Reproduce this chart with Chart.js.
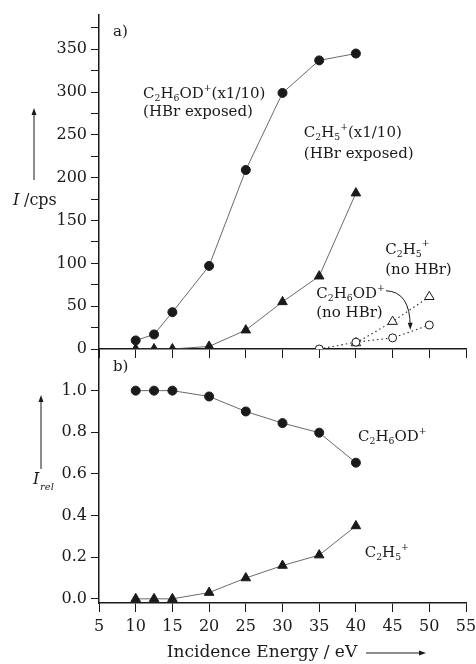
<!DOCTYPE html>
<html>
<head>
<meta charset="utf-8">
<script src="https://cdn.jsdelivr.net/npm/chart.js@4.4.0/dist/chart.umd.min.js"></script>
<style>
html, body { margin: 0; padding: 0; background: #fff; }
#wrap { position: relative; width: 476px; height: 664px; }
#wrap canvas { position: absolute; left: 0; }
</style>
</head>
<body>
<div id="wrap">
  <canvas id="topChart" width="476" height="380" style="top:0"></canvas>
  <canvas id="botChart" width="476" height="334" style="top:330px"></canvas>
</div>
<script>
// incidence energies (eV)
var energies = [10, 12.5, 15, 20, 25, 30, 35, 40];
// a) absolute intensities, cps (HBr exposed, x1/10)
var odExposed = [10, 17, 43, 97, 209, 299, 337, 345];
var ethylExposed = [0, 0, 0, 3, 22, 55, 85, 182];
// a) no HBr
var odNoHbrE = [35, 40, 45, 50];
var odNoHbr = [0, 8, 13, 28];
var ethylNoHbrE = [40, 45, 50];
var ethylNoHbr = [7, 32, 61];
// b) relative intensities
var odRel = [1.0, 1.0, 1.0, 0.972, 0.90, 0.844, 0.798, 0.654];
var ethylRel = [0, 0, 0, 0.03, 0.10, 0.16, 0.21, 0.35];
// ticks
var xTicks = [5, 10, 15, 20, 25, 30, 35, 40, 45, 50, 55];
var topYTicks = [0, 25, 50, 75, 100, 125, 150, 175, 200, 225, 250, 275, 300, 325, 350, 375];
var botYTicks = [0, 0.2, 0.4, 0.6, 0.8, 1.0];

var FONT = '"DejaVu Serif"';
var INK = '#1a1a1a';

function pts(xs, ys) {
    return xs.map(function (x, i) { return {x: x, y: ys[i]}; });
}

function richText(ctx, str, x, y, size) {
    // _c = subscript char, ^c = superscript char
    var cx = x;
    for (var i = 0; i < str.length; i++) {
        var ch = str[i], dy = 0, s = size;
        if ((ch === '_' || ch === '^') && i + 1 < str.length) {
            dy = ch === '_' ? size * 0.32 : -size * 0.38;
            s = size * 0.62;
            ch = str[++i];
        }
        ctx.font = s + 'px ' + FONT;
        ctx.fillText(ch, cx, y + dy);
        cx += ctx.measureText(ch).width;
    }
    return cx;
}

function arrowHead(ctx, x, y, ang) {
    ctx.save();
    ctx.translate(x, y);
    ctx.rotate(ang);
    ctx.beginPath();
    ctx.moveTo(0, 0);
    ctx.lineTo(-7, -2.5);
    ctx.lineTo(-7, 2.5);
    ctx.closePath();
    ctx.fill();
    ctx.restore();
}

function line(ctx, x1, y1, x2, y2) {
    ctx.beginPath();
    ctx.moveTo(x1, y1);
    ctx.lineTo(x2, y2);
    ctx.stroke();
}

function lineSet(data, style, dotted) {
    return {
        data: data,
        borderColor: dotted ? '#222' : '#444',
        borderWidth: dotted ? 1.1 : 0.8,
        borderDash: dotted ? [1.5, 3] : [],
        pointStyle: style.shape,
        pointRadius: style.r,
        pointHoverRadius: style.r,
        pointBackgroundColor: style.open ? '#fff' : INK,
        pointBorderColor: INK,
        pointBorderWidth: 1,
        tension: 0
    };
}

var dot = {shape: 'circle', r: 4.5};
var tri = {shape: 'triangle', r: 5.5};
var openDot = {shape: 'circle', r: 4, open: true};
var openTri = {shape: 'triangle', r: 5.5, open: true};

function xScale(showLabels, height) {
    return {
        type: 'linear', min: 5, max: 55,
        afterBuildTicks: function (s) { s.ticks = xTicks.map(function (v) { return {value: v}; }); },
        grid: {drawOnChartArea: false, tickLength: 9, color: INK, lineWidth: 1},
        border: {color: INK, width: 1.5},
        ticks: {display: showLabels, color: INK, font: {family: 'DejaVu Serif', size: 16}, padding: 5, maxRotation: 0},
        afterFit: function (s) { s.height = height; s.paddingLeft = 0; s.paddingRight = 0; }
    };
}

function yFit(s) { s.width = 99; s.paddingTop = 0; s.paddingBottom = 0; }

var annoTop = {
    id: 'annoTop',
    afterDraw: function (chart) {
        var ctx = chart.ctx, x = chart.scales.x, y = chart.scales.y;
        var P = function (a, b) { return [x.getPixelForValue(a), y.getPixelForValue(b)]; };
        ctx.save();
        ctx.fillStyle = INK;
        ctx.strokeStyle = INK;
        ctx.textBaseline = 'middle';
        ctx.textAlign = 'left';
        var labels = [
            ['a)', 6.9, 370],
            ['C_2H_6OD^+(x1/10)', 11.0, 298],
            ['(HBr exposed)', 11.0, 277],
            ['C_2H_5^+(x1/10)', 32.9, 252],
            ['(HBr exposed)', 32.9, 228],
            ['C_2H_5^+', 44.0, 116],
            ['(no HBr)', 44.0, 92],
            ['C_2H_6OD^+', 34.6, 64],
            ['(no HBr)', 34.6, 42]
        ];
        labels.forEach(function (l) {
            var p = P(l[1], l[2]);
            richText(ctx, l[0], p[0], p[1], 15);
        });
        // curved arrow
        var s = P(44.1, 68), c = P(47.4, 67), e = P(47.4, 26);
        ctx.lineWidth = 1;
        ctx.beginPath();
        ctx.moveTo(s[0], s[1]);
        ctx.quadraticCurveTo(c[0], c[1], e[0], e[1]);
        ctx.stroke();
        arrowHead(ctx, e[0], e[1] + 3, Math.PI / 2);
        // y title
        ctx.font = 'italic 16px ' + FONT;
        ctx.fillText('I', 13, 201);
        ctx.font = '16px ' + FONT;
        ctx.fillText('/cps', 24, 201);
        line(ctx, 34, 180, 34, 112);
        arrowHead(ctx, 34, 108, -Math.PI / 2);
        ctx.restore();
    }
};

var annoBot = {
    id: 'annoBot',
    afterDraw: function (chart) {
        var ctx = chart.ctx, x = chart.scales.x, y = chart.scales.y;
        var P = function (a, b) { return [x.getPixelForValue(a), y.getPixelForValue(b)]; };
        ctx.save();
        ctx.fillStyle = INK;
        ctx.strokeStyle = INK;
        ctx.textBaseline = 'middle';
        ctx.textAlign = 'left';
        var p = P(6.9, 1.113);
        richText(ctx, 'b)', p[0], p[1], 15);
        p = P(40.3, 0.777);
        richText(ctx, 'C_2H_6OD^+', p[0], p[1], 15);
        p = P(41.2, 0.219);
        richText(ctx, 'C_2H_5^+', p[0], p[1], 15);
        // y title
        ctx.font = 'italic 16px ' + FONT;
        ctx.fillText('I', 33, 150);
        ctx.font = 'italic 10px ' + FONT;
        ctx.fillText('rel', 40, 157);
        ctx.lineWidth = 1;
        line(ctx, 41, 139, 41, 69);
        arrowHead(ctx, 41, 65, -Math.PI / 2);
        // x title
        ctx.font = '17px ' + FONT;
        ctx.textAlign = 'center';
        ctx.fillText('Incidence Energy / eV', 262, 323);
        line(ctx, 366, 323, 420, 323);
        arrowHead(ctx, 426, 323, 0);
        ctx.restore();
    }
};

new Chart(document.getElementById('topChart').getContext('2d'), {
    type: 'line',
    data: {
        datasets: [
            lineSet(pts(energies, odExposed), dot),
            lineSet(pts(energies, ethylExposed), tri),
            lineSet(pts(odNoHbrE, odNoHbr), openDot, true),
            lineSet(pts(ethylNoHbrE, ethylNoHbr), openTri, true)
        ]
    },
    options: {
        responsive: false,
        animation: false,
        layout: {padding: {left: 0, right: 10, top: 15, bottom: 0}},
        plugins: {legend: {display: false}, tooltip: {enabled: false}},
        scales: {
            x: xScale(false, 31),
            y: {
                min: 0, max: 390,
                afterBuildTicks: function (s) { s.ticks = topYTicks.map(function (v) { return {value: v}; }); },
                grid: {drawOnChartArea: false, tickLength: 8, color: INK, lineWidth: 1},
                border: {color: INK, width: 1.5},
                ticks: {
                    color: INK, padding: 4, font: {family: 'DejaVu Serif', size: 16},
                    callback: function (v) { return v % 50 === 0 ? String(v) : ''; }
                },
                afterFit: yFit
            }
        }
    },
    plugins: [annoTop]
});

new Chart(document.getElementById('botChart').getContext('2d'), {
    type: 'line',
    data: {
        datasets: [
            lineSet(pts(energies, odRel), dot),
            lineSet(pts(energies, ethylRel), tri)
        ]
    },
    options: {
        responsive: false,
        animation: false,
        layout: {padding: {left: 0, right: 10, top: 19, bottom: 0}},
        plugins: {legend: {display: false}, tooltip: {enabled: false}},
        scales: {
            x: xScale(true, 61),
            y: {
                min: -0.02, max: 1.2,
                afterBuildTicks: function (s) { s.ticks = botYTicks.map(function (v) { return {value: v}; }); },
                grid: {drawOnChartArea: false, tickLength: 8, color: INK, lineWidth: 1},
                border: {color: INK, width: 1.5},
                ticks: {
                    color: INK, padding: 4, font: {family: 'DejaVu Serif', size: 16},
                    callback: function (v) { return v.toFixed(1); }
                },
                afterFit: yFit
            }
        }
    },
    plugins: [annoBot]
});
</script>
</body>
</html>
